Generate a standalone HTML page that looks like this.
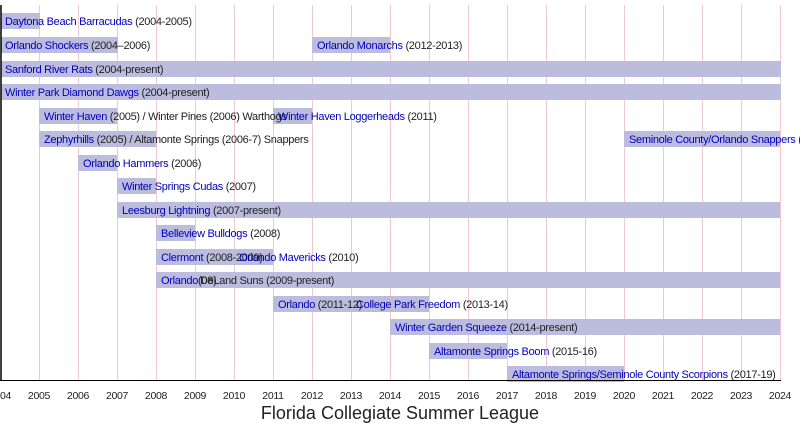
<!DOCTYPE html>
<html><head><meta charset="utf-8"><style>
html,body{margin:0;padding:0;background:#fff;width:800px;height:430px;overflow:hidden}
svg text{font-family:"Liberation Sans",sans-serif}
</style></head><body>
<svg width="800" height="430" xmlns="http://www.w3.org/2000/svg">
<g stroke="#f0c8d4" stroke-width="1">
<line x1="39.5" y1="5" x2="39.5" y2="380"/><line x1="78.5" y1="5" x2="78.5" y2="380"/><line x1="117.5" y1="5" x2="117.5" y2="380"/><line x1="156.5" y1="5" x2="156.5" y2="380"/><line x1="195.5" y1="5" x2="195.5" y2="380"/><line x1="234.5" y1="5" x2="234.5" y2="380"/><line x1="273.5" y1="5" x2="273.5" y2="380"/><line x1="312.5" y1="5" x2="312.5" y2="380"/><line x1="351.5" y1="5" x2="351.5" y2="380"/><line x1="390.5" y1="5" x2="390.5" y2="380"/><line x1="429.5" y1="5" x2="429.5" y2="380"/><line x1="468.5" y1="5" x2="468.5" y2="380"/><line x1="507.5" y1="5" x2="507.5" y2="380"/><line x1="546.5" y1="5" x2="546.5" y2="380"/><line x1="585.5" y1="5" x2="585.5" y2="380"/><line x1="624.5" y1="5" x2="624.5" y2="380"/><line x1="663.5" y1="5" x2="663.5" y2="380"/><line x1="702.5" y1="5" x2="702.5" y2="380"/><line x1="741.5" y1="5" x2="741.5" y2="380"/><line x1="780.5" y1="5" x2="780.5" y2="380"/>
</g>
<g fill="#bcbcde">
<rect x="1" y="13" width="39" height="16"/>
<rect x="1" y="37" width="117" height="16"/><rect x="312" y="37" width="78" height="16"/>
<rect x="1" y="61" width="780" height="16"/>
<rect x="1" y="84" width="780" height="16"/>
<rect x="39" y="108" width="78" height="16"/><rect x="273" y="108" width="39" height="16"/>
<rect x="39" y="131" width="117" height="16"/><rect x="624" y="131" width="156" height="16"/>
<rect x="78" y="155" width="39" height="16"/>
<rect x="117" y="178" width="39" height="16"/>
<rect x="117" y="202" width="663" height="16"/>
<rect x="156" y="225" width="39" height="16"/>
<rect x="156" y="249" width="117" height="16"/>
<rect x="156" y="272" width="624" height="16"/>
<rect x="273" y="296" width="156" height="16"/>
<rect x="390" y="319" width="390" height="16"/>
<rect x="429" y="343" width="78" height="16"/>
<rect x="507" y="366" width="117" height="16"/>
</g>
<g font-size="11" fill="#222" letter-spacing="-0.3">
<text x="5" y="25"><tspan fill="#0000bb">Daytona Beach Barracudas</tspan> (2004-2005)</text>
<text x="5" y="49"><tspan fill="#0000bb">Orlando Shockers</tspan> (2004–2006)</text>
<text x="317" y="49"><tspan fill="#0000bb">Orlando Monarchs</tspan> (2012-2013)</text>
<text x="5" y="73"><tspan fill="#0000bb">Sanford River Rats</tspan> (2004-present)</text>
<text x="5" y="96"><tspan fill="#0000bb">Winter Park Diamond Dawgs</tspan> (2004-present)</text>
<text x="44" y="120"><tspan fill="#0000bb">Winter Haven</tspan> (2005) / Winter Pines (2006) Warthogs</text>
<text x="278" y="120"><tspan fill="#0000bb">Winter Haven Loggerheads</tspan> (2011)</text>
<text x="44" y="143"><tspan fill="#0000bb">Zephyrhills</tspan> (2005) / Altamonte Springs (2006-7) Snappers</text>
<text x="629" y="143"><tspan fill="#0000bb">Seminole County/Orlando Snappers</tspan> (2020-2023)</text>
<text x="83" y="167"><tspan fill="#0000bb">Orlando Hammers</tspan> (2006)</text>
<text x="122" y="190"><tspan fill="#0000bb">Winter Springs Cudas</tspan> (2007)</text>
<text x="122" y="214"><tspan fill="#0000bb">Leesburg Lightning</tspan> (2007-present)</text>
<text x="161" y="237"><tspan fill="#0000bb">Belleview Bulldogs</tspan> (2008)</text>
<text x="161" y="261"><tspan fill="#0000bb">Clermont</tspan> (2008-2009)</text>
<text x="239" y="261"><tspan fill="#0000bb">Orlando Mavericks</tspan> (2010)</text>
<text x="161" y="284"><tspan fill="#0000bb">Orlando</tspan>(08)</text>
<text x="200" y="284">DeLand Suns (2009-present)</text>
<text x="278" y="308"><tspan fill="#0000bb">Orlando</tspan> (2011-12)</text>
<text x="356" y="308"><tspan fill="#0000bb">College Park Freedom</tspan> (2013-14)</text>
<text x="395" y="331"><tspan fill="#0000bb">Winter Garden Squeeze</tspan> (2014-present)</text>
<text x="434" y="355"><tspan fill="#0000bb">Altamonte Springs Boom</tspan> (2015-16)</text>
<text x="512" y="378"><tspan fill="#0000bb">Altamonte Springs/Seminole County Scorpions</tspan> (2017-19)</text>
</g>
<line x1="1" y1="5" x2="1" y2="381" stroke="#000" stroke-width="1.5"/>
<line x1="0" y1="380.5" x2="781" y2="380.5" stroke="#000" stroke-width="1"/>
<g font-size="10.5" fill="#222" text-anchor="middle" letter-spacing="-0.3">
<text x="0" y="399">2004</text><text x="39" y="399">2005</text><text x="78" y="399">2006</text><text x="117" y="399">2007</text><text x="156" y="399">2008</text><text x="195" y="399">2009</text><text x="234" y="399">2010</text><text x="273" y="399">2011</text><text x="312" y="399">2012</text><text x="351" y="399">2013</text><text x="390" y="399">2014</text><text x="429" y="399">2015</text><text x="468" y="399">2016</text><text x="507" y="399">2017</text><text x="546" y="399">2018</text><text x="585" y="399">2019</text><text x="624" y="399">2020</text><text x="663" y="399">2021</text><text x="702" y="399">2022</text><text x="741" y="399">2023</text><text x="780" y="399">2024</text>
</g>
<text x="400" y="419" font-size="18" fill="#222" text-anchor="middle">Florida Collegiate Summer League</text>
</svg>
</body></html>
